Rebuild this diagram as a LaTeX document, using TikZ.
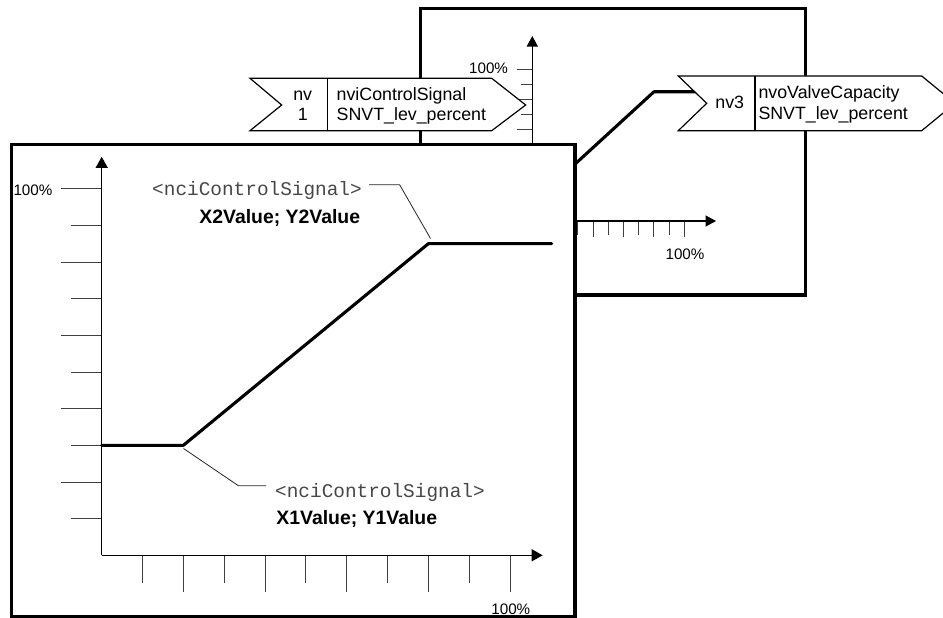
\documentclass[tikz,border=0pt]{standalone}
\usepackage{fontspec}
\setmainfont{Liberation Sans}
\newfontfamily\monofont{Liberation Mono}
\usetikzlibrary{arrows.meta}
\begin{document}
\begin{tikzpicture}[x=1pt,y=-1pt,
  bigbox/.style={line width=3.3pt, fill=white, line join=miter},
  axisline/.style={line width=1.3pt, -{Triangle[width=12pt,length=11pt]}},
  smallaxis/.style={line width=1.2pt, -{Triangle[width=11pt,length=10.5pt]}},
  tickline/.style={line width=0.9pt, draw=black!75},
  curveline/.style={line width=3.1pt, line cap=round, line join=round},
  leader/.style={line width=0.8pt, draw=black!85},
  nvbox/.style={line width=1.2pt, fill=white, line join=miter},
  nvtext/.style={inner sep=0pt, font=\fontsize{17.8}{21}\selectfont},
  pcttext/.style={inner sep=0pt, font=\fontsize{15.2}{18}\selectfont},
  monotext/.style={inner sep=0pt, font=\monofont\fontsize{19.4}{23}\selectfont, text=black!72},
  boldtext/.style={inner sep=0pt, font=\bfseries\fontsize{19.4}{23}\selectfont},
]
\useasboundingbox (0,0) rectangle (943,618);

% ---------- back block ----------
\draw[bigbox] (420.7,8.3) rectangle (805.7,295);
\coordinate (O2) at (532.3,221);
\begin{scope}[shift={(O2)}, x=1.52pt, y=1.52pt]
  \foreach \i in {2,4,...,10} {\draw[tickline] (-10.26,10*\i) -- (0,10*\i);}
  \foreach \i in {1,3,...,9}  {\draw[tickline] (-7.63,10*\i) -- (0,10*\i);}
  \foreach \i in {2,4,...,10} {\draw[tickline] (10*\i,0) -- (10*\i,-10.3);}
  \foreach \i in {1,3,...,9}  {\draw[tickline] (10*\i,0) -- (10*\i,-9.3);}
  \coordinate (bA) at (0,0);
  \coordinate (bYt) at (0,121.7);
  \coordinate (bXt) at (120.9,0);
  \draw[smallaxis] (bA) -- (bYt);
  \draw[smallaxis] (bA) -- (bXt);
  \coordinate (bc1) at (0,30);
  \coordinate (bc2) at (20,30);
  \coordinate (bc3) at (80,85);
  \coordinate (bc4) at (110,85);
  \draw[curveline] (bc1) -- (bc2) -- (bc3) -- (bc4);
\end{scope}
\node[pcttext, anchor=base east] (b100y) at (508.2,74) {100\%};
\node[pcttext, anchor=base] (b100x) at (685,259) {100\%};

% ---------- nv3 output box ----------
\draw[nvbox] (678.3,76) -- (921.7,76) -- (955,103.3) -- (921.7,130.7) -- (678.3,130.7) -- (706.7,103.3) -- cycle;
\draw[line width=1.2pt] (755,76) -- (755,130.7);
\node[nvtext, anchor=base] (nv3) at (729.7,108.3) {nv3};
\node[nvtext, anchor=base west] (nvoA) at (758.3,98.7) {nvoValveCapacity};
\node[nvtext, anchor=base west] (nvoB) at (758.3,120) {SNVT\_lev\_percent};

% ---------- nv1 input box ----------
\draw[nvbox] (250,78.3) -- (491.7,78.3) -- (525.7,105) -- (491.7,130.7) -- (250,130.7) -- (281.7,105) -- cycle;
\draw[line width=1.2pt] (327.7,78.3) -- (327.7,130.7);
\node[nvtext, anchor=base] (nv1a) at (302.7,100.7) {nv};
\node[nvtext, anchor=base] (nv1b) at (302.7,121) {1};
\node[nvtext, anchor=base west] (nviA) at (336.5,100.7) {nviControlSignal};
\node[nvtext, anchor=base west] (nviB) at (336.5,121) {SNVT\_lev\_percent};

% ---------- front block ----------
\draw[bigbox] (11.7,144.3) rectangle (575,616.7);
\coordinate (O1) at (101.7,555.3);
\begin{scope}[shift={(O1)}, x=4.083pt, y=3.666pt]
  \foreach \i in {2,4,...,10} {\draw[tickline] (-9.97,10*\i) -- (0,10*\i);}
  \foreach \i in {1,3,...,9}  {\draw[tickline] (-7.52,10*\i) -- (0,10*\i);}
  \foreach \i in {2,4,...,10} {\draw[tickline] (10*\i,0) -- (10*\i,-10.09);}
  \foreach \i in {1,3,...,9}  {\draw[tickline] (10*\i,0) -- (10*\i,-7.64);}
  \coordinate (fA) at (0,0);
  \coordinate (fYt) at (0,108.7);
  \coordinate (fXt) at (108,0);
  \draw[axisline] (fA) -- (fYt);
  \draw[axisline] (fA) -- (fXt);
  \coordinate (fc1) at (0,30);
  \coordinate (fc2) at (20,30);
  \coordinate (fc3) at (80,85);
  \coordinate (fc4) at (110.2,85);
  \draw[curveline] (fc1) -- (fc2) -- (fc3) -- (fc4);
\end{scope}
\node[pcttext, anchor=base east] (f100y) at (52.6,195) {100\%};
\node[pcttext, anchor=base] (f100x) at (510.8,614.3) {100\%};

\node[monotext, anchor=base east] (m2) at (362,195) {<nciControlSignal>};
\node[boldtext, anchor=base east] (x2) at (360.3,223.3) {X2Value; Y2Value};
\node[monotext, anchor=base west] (m1) at (275,497) {<nciControlSignal>};
\node[boldtext, anchor=base west] (x1) at (276.2,524.3) {X1Value; Y1Value};

\coordinate (L2a) at (369,184.7);
\coordinate (L2b) at (399.6,184.7);
\coordinate (L2c) at (430.5,238.5);
\draw[leader] (L2a) -- (L2b) -- (L2c);
\coordinate (L1a) at (183.5,448.5);
\coordinate (L1b) at (238.5,485.8);
\coordinate (L1c) at (266,485.8);
\draw[leader] (L1a) -- (L1b) -- (L1c);
\end{tikzpicture}
\end{document}
